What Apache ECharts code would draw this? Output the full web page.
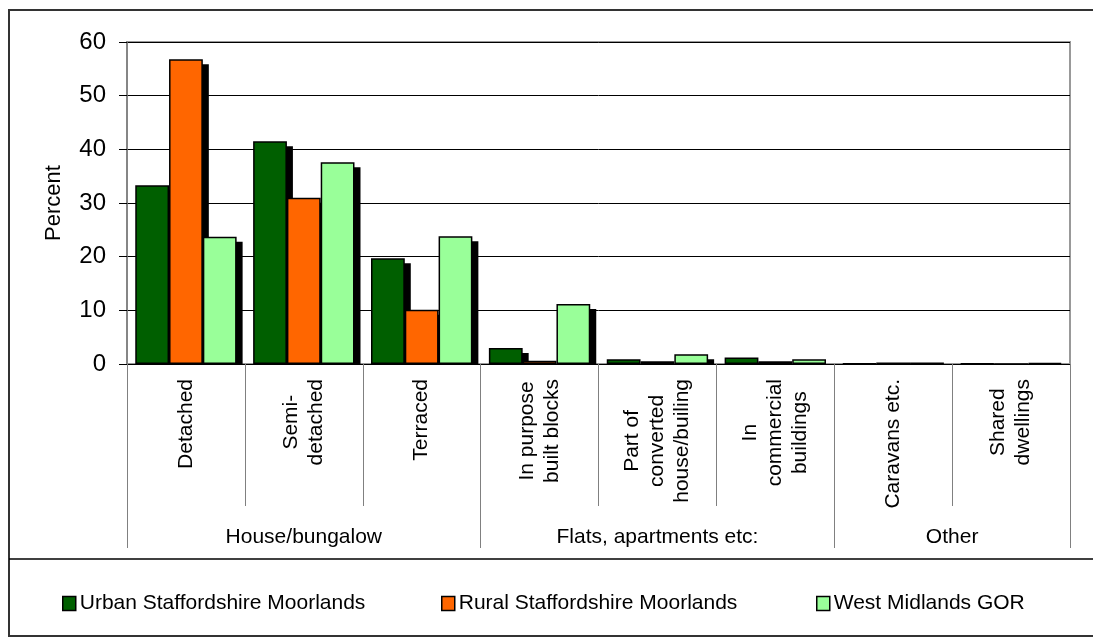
<!DOCTYPE html>
<html>
<head>
<meta charset="utf-8">
<script src="https://cdn.jsdelivr.net/npm/echarts@6/dist/echarts.min.js"></script>
<style>
  html, body { margin: 0; padding: 0; background: #fff; }
  #chart { width: 1093px; height: 640px; }
</style>
</head>
<body>
<div id="chart"></div>
<script>
// ---- data ----
const categories = ['Detached', 'Semi-\ndetached', 'Terraced', 'In purpose\nbuilt blocks',
  'Part of\nconverted\nhouse/builing', 'In\ncommercial\nbuildings', 'Caravans etc.', 'Shared\ndwellings'];
const groupNames = ['House/bungalow', 'Flats, apartments etc:', 'Other'];
const groupBounds = [0, 3, 6, 8];
const seriesNames = ['Urban Staffordshire Moorlands', 'Rural Staffordshire Moorlands', 'West Midlands GOR'];
const urban = [33.3, 41.5, 19.7, 3.0, 0.9, 1.2, 0.1, 0.1];
const rural = [56.8, 31.0, 10.1, 0.6, 0.5, 0.5, 0.3, 0.0];
const westMidlands = [23.7, 37.6, 23.8, 11.2, 1.8, 0.9, 0.3, 0.2];
const yTicks = [0, 10, 20, 30, 40, 50, 60];

const colors = ['#005f00', '#ff6600', '#99ff99'];
const FONT = 'Liberation Sans, Arial, sans-serif';
const CAT_GAP = 0.14;
const allValues = [urban, rural, westMidlands];

const groupCenters = groupNames.map((n, i) => (groupBounds[i] + groupBounds[i + 1]) / 2);

const shadowData = [];
allValues.forEach((arr, s) => arr.forEach((v, i) => shadowData.push([i, v, s])));

const chart = echarts.init(document.getElementById('chart'), null, { renderer: 'canvas' });

const barSeries = seriesNames.map((name, s) => ({
  type: 'bar',
  name: name,
  data: allValues[s],
  xAxisIndex: 0,
  yAxisIndex: 0,
  barGap: '0%',
  barCategoryGap: (CAT_GAP * 100) + '%',
  z: 3,
  itemStyle: { color: colors[s], borderColor: '#000', borderWidth: 1.5 }
}));

const option = {
  animation: false,
  backgroundColor: '#fff',
  grid: { left: 127, right: 23, top: 42, bottom: 276, show: true, borderColor: '#999', borderWidth: 2, backgroundColor: 'transparent' },
  legend: seriesNames.map((name, s) => ({
    data: [name],
    left: [57, 436, 811][s],
    top: 588,
    itemWidth: 13,
    itemHeight: 14,
    itemGap: 0,
    textStyle: { fontSize: 21, fontFamily: FONT, color: '#000', padding: [0, 0, 0, -1] },
    itemStyle: { borderColor: '#000', borderWidth: 1.5 },
    icon: 'rect'
  })),
  xAxis: [
    {
      type: 'category',
      data: categories,
      axisLine: { show: true, lineStyle: { color: '#000', width: 1 } },
      axisTick: { show: true, interval: 0, length: 142, lineStyle: { color: '#808080', width: 1 } },
      axisLabel: {
        interval: 0,
        rotate: 90,
        margin: 15,
        color: '#000',
        fontSize: 21,
        fontFamily: FONT,
        formatter: v => v.split('\n').map(l => '{c|' + l + '}').join('\n'),
        rich: { c: { align: 'center', fontSize: 21, lineHeight: 25, fontFamily: FONT, color: '#000' } }
      },
      splitLine: { show: false }
    },
    {
      type: 'value',
      min: 0,
      max: 8,
      position: 'bottom',
      axisLine: { show: false },
      splitLine: { show: false },
      axisTick: { show: true, customValues: groupBounds, length: 184, lineStyle: { color: '#808080', width: 1 } },
      axisLabel: {
        customValues: groupCenters,
        margin: 163,
        color: '#000',
        fontSize: 21,
        fontFamily: FONT,
        formatter: v => {
          const k = groupCenters.findIndex(c => Math.abs(c - v) < 1e-6);
          return k >= 0 ? groupNames[k] : '';
        }
      }
    }
  ],
  yAxis: {
    type: 'value',
    min: yTicks[0],
    max: yTicks[yTicks.length - 1],
    interval: 10,
    name: 'Percent',
    nameLocation: 'middle',
    nameGap: 62,
    nameTextStyle: { fontSize: 22, fontFamily: FONT, color: '#000' },
    axisLine: { show: true, lineStyle: { color: '#808080', width: 1.5 } },
    axisTick: { show: true, length: 8, lineStyle: { color: '#000', width: 1 } },
    axisLabel: { fontSize: 24, fontFamily: FONT, color: '#000', margin: 21 },
    splitLine: { show: true, lineStyle: { color: '#000', width: 1 } }
  },
  graphic: [
    { type: 'rect', shape: { x: 9, y: 10, width: 1200, height: 626 }, style: { fill: 'none', stroke: '#333', lineWidth: 2 }, z: 100, silent: true },
    { type: 'line', shape: { x1: 9, y1: 559, x2: 1093, y2: 559 }, style: { stroke: '#000', lineWidth: 1.5 }, z: 100, silent: true }
  ],
  series: [
    {
      type: 'custom',
      name: 'shadow',
      xAxisIndex: 0,
      yAxisIndex: 0,
      silent: true,
      clip: true,
      z: 1,
      data: shadowData,
      encode: { x: 0, y: 1 },
      renderItem: (params, api) => {
        const i = api.value(0), v = api.value(1), s = api.value(2);
        const base = api.coord([i, 0]);
        const top = api.coord([i, v]);
        const band = api.size([1, 0])[0];
        const used = band * (1 - CAT_GAP);
        const barW = used / 3;
        const x0 = base[0] - used / 2 + s * barW;
        const h = base[1] - top[1] - 5;
        if (h <= 0) return null;
        return {
          type: 'rect',
          shape: { x: x0 + 6, y: top[1] + 5, width: barW, height: h },
          style: { fill: '#000' }
        };
      }
    }
  ].concat(barSeries)
};

chart.setOption(option);
</script>
</body>
</html>
